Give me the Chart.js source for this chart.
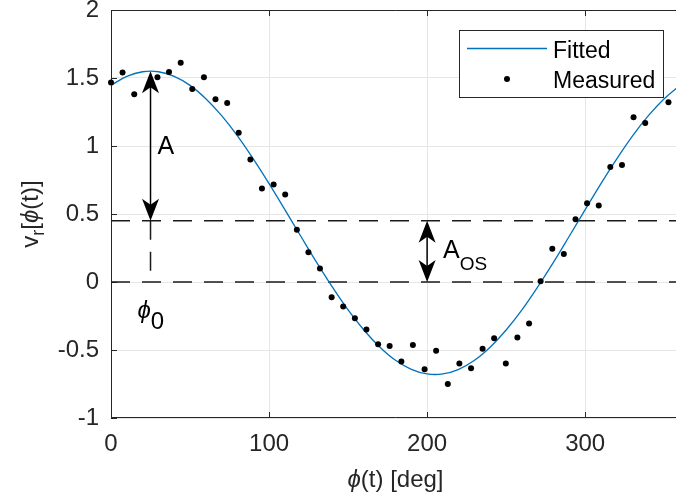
<!DOCTYPE html>
<html lang="en">
<head>
<meta charset="UTF-8">
<title>Radial velocity fit</title>
<script src="https://cdn.jsdelivr.net/npm/chart.js"></script>
<style>
  html, body { margin: 0; padding: 0; background: #fff; overflow: hidden; }
  #wrap { width: 676px; height: 502px; overflow: hidden; }
</style>
</head>
<body>
<div id="wrap"><canvas id="fitChart" width="684" height="502"></canvas></div>
<script>
// measured samples (deg, value)
const measPhi = [0, 7.3, 14.7, 29.4, 36.7, 44.1, 51.4, 58.8, 66.1, 73.5, 80.8, 88.2,
  95.5, 102.9, 110.2, 117.6, 124.9, 132.2, 139.6, 146.9, 154.3, 161.6, 169.0, 176.3,
  183.7, 191.0, 198.4, 205.7, 213.1, 220.4, 227.8, 235.1, 242.4, 249.8, 257.1, 264.5,
  271.8, 279.2, 286.5, 293.9, 301.2, 308.6, 315.9, 323.3, 330.6, 338.0, 352.7];
const measV = [1.466, 1.54, 1.38, 1.505, 1.544, 1.613, 1.419, 1.505, 1.343, 1.316, 1.098, 0.90,
  0.687, 0.716, 0.643, 0.385, 0.218, 0.10, -0.113, -0.181, -0.267, -0.35, -0.458, -0.47,
  -0.585, -0.463, -0.642, -0.505, -0.75, -0.60, -0.635, -0.49, -0.414, -0.60, -0.409, -0.305,
  0.005, 0.245, 0.206, 0.461, 0.579, 0.562, 0.846, 0.86, 1.211, 1.169, 1.321];

// fitted curve, every 10 deg
const fitPhi = [0, 10, 20, 30, 40, 50, 60, 70, 80, 90, 100, 110, 120, 130, 140, 150, 160, 170,
  180, 190, 200, 210, 220, 230, 240, 250, 260, 270, 280, 290, 300, 310, 320, 330, 340, 350, 360];
const fitV = [1.446, 1.512, 1.546, 1.546, 1.512, 1.446, 1.348, 1.223, 1.075, 0.906, 0.724, 0.532,
  0.338, 0.146, -0.036, -0.205, -0.353, -0.478, -0.576, -0.642, -0.676, -0.676, -0.642, -0.576,
  -0.478, -0.353, -0.205, -0.036, 0.146, 0.338, 0.532, 0.724, 0.906, 1.075, 1.223, 1.348, 1.446];

const xTicks = [0, 100, 200, 300];
const yTicks = [-1, -0.5, 0, 0.5, 1, 1.5, 2];

// fit parameters marked on the plot
const phi0 = 25;       // phase of the peak
const peakV = 1.55;    // top of the amplitude arrow
const offsetV = 0.45;  // A_OS level
const aosPhi = 200;    // where the offset arrow sits

const INK = '#262626';
const BLUE = '#0072BD';
const FONT = "'Liberation Sans', Arial, sans-serif";

function arrowHead(ctx, x, y, dir) {
  // dir -1: tip points up, +1: tip points down
  const L = 22, W = 8.5, N = 16;
  ctx.beginPath();
  ctx.moveTo(x, y);
  ctx.lineTo(x - W, y - dir * L);
  ctx.lineTo(x, y - dir * N);
  ctx.lineTo(x + W, y - dir * L);
  ctx.closePath();
  ctx.fill();
}

function doubleArrow(ctx, x, yTop, yBot) {
  ctx.beginPath();
  ctx.moveTo(x, yTop + 10);
  ctx.lineTo(x, yBot - 10);
  ctx.stroke();
  arrowHead(ctx, x, yTop, -1);
  arrowHead(ctx, x, yBot, 1);
}

// text made of runs: [text, font, dy]
function drawRuns(ctx, runs, x, y, center) {
  let total = 0;
  runs.forEach(r => { ctx.font = r[1]; total += ctx.measureText(r[0]).width; });
  let cx = center ? x - total / 2 : x;
  runs.forEach(r => {
    ctx.font = r[1];
    ctx.fillText(r[0], cx, y + (r[2] || 0));
    cx += ctx.measureText(r[0]).width;
  });
}

const decorations = {
  id: 'decorations',
  beforeDatasetsDraw(chart) {
    const { ctx, chartArea: a, scales: { x, y } } = chart;
    ctx.save();
    // axis box (left, bottom, top) with inward ticks
    ctx.strokeStyle = INK;
    ctx.lineWidth = 1;
    ctx.beginPath();
    ctx.moveTo(a.left + 0.5, a.top + 0.5);
    ctx.lineTo(a.right, a.top + 0.5);
    ctx.moveTo(a.left + 0.5, a.top);
    ctx.lineTo(a.left + 0.5, a.bottom - 0.5);
    ctx.lineTo(a.right, a.bottom - 0.5);
    xTicks.forEach(v => {
      const px = Math.round(x.getPixelForValue(v)) + 0.5;
      ctx.moveTo(px, a.bottom); ctx.lineTo(px, a.bottom - 6);
      ctx.moveTo(px, a.top); ctx.lineTo(px, a.top + 6);
    });
    yTicks.forEach(v => {
      const py = Math.round(y.getPixelForValue(v)) + 0.5;
      ctx.moveTo(a.left, py); ctx.lineTo(a.left + 6, py);
    });
    ctx.stroke();

    // dashed reference lines
    ctx.strokeStyle = '#1a1a1a';
    ctx.lineWidth = 1.5;
    ctx.setLineDash([19, 12]);
    const yOff = y.getPixelForValue(offsetV);
    const yZero = y.getPixelForValue(0);
    ctx.beginPath();
    ctx.moveTo(a.left, yOff); ctx.lineTo(a.right, yOff);
    ctx.moveTo(a.left, yZero); ctx.lineTo(a.right, yZero);
    const xp = x.getPixelForValue(phi0);
    ctx.moveTo(xp, yOff); ctx.lineTo(xp, yZero);
    ctx.stroke();
    ctx.restore();
  },
  afterDatasetsDraw(chart) {
    const { ctx, chartArea: a, scales: { x, y } } = chart;
    ctx.save();
    ctx.fillStyle = '#000';
    ctx.strokeStyle = '#000';
    ctx.lineWidth = 1.5;
    const xp = x.getPixelForValue(phi0);
    const yPeak = y.getPixelForValue(peakV);
    const yOff = y.getPixelForValue(offsetV);
    const yZero = y.getPixelForValue(0);
    doubleArrow(ctx, xp, yPeak, yOff);
    const xa = x.getPixelForValue(aosPhi);
    doubleArrow(ctx, xa, yOff, yZero);

    ctx.textAlign = 'left';
    ctx.textBaseline = 'alphabetic';
    ctx.fillStyle = '#000';
    drawRuns(ctx, [['A', `25px ${FONT}`]], xp + 7, y.getPixelForValue(1) + 8);
    drawRuns(ctx, [['A', `25px ${FONT}`], ['OS', `19px ${FONT}`, 12]], xa + 16, (yOff + yZero) / 2 + 7);
    drawRuns(ctx, [['\u03D5', `italic 24px ${FONT}`], ['0', `24px ${FONT}`, 11]], xp - 13, yZero + 36);

    // axis titles
    ctx.fillStyle = INK;
    const cx = (a.left + a.right) / 2;
    drawRuns(ctx, [['\u03D5', `italic 24px ${FONT}`], ['(t) [deg]', `24px ${FONT}`]], cx, 487, true);
    ctx.save();
    ctx.translate(38, (a.top + a.bottom) / 2);
    ctx.rotate(-Math.PI / 2);
    drawRuns(ctx, [['v', `24px ${FONT}`], ['r', `18px ${FONT}`, 6], ['[', `24px ${FONT}`],
      ['\u03D5', `italic 24px ${FONT}`], ['(t)]', `24px ${FONT}`]], 0, 0, true);
    ctx.restore();

    // legend
    ctx.fillStyle = '#fff';
    ctx.fillRect(459, 30, 204, 67);
    ctx.strokeStyle = INK;
    ctx.lineWidth = 1;
    ctx.strokeRect(459.5, 30.5, 204, 67);
    ctx.strokeStyle = BLUE;
    ctx.lineWidth = 1.3;
    ctx.beginPath();
    ctx.moveTo(467, 48.5); ctx.lineTo(547, 48.5);
    ctx.stroke();
    ctx.fillStyle = '#000';
    ctx.beginPath();
    ctx.arc(507, 79, 3, 0, Math.PI * 2);
    ctx.fill();
    ctx.font = `23px ${FONT}`;
    ctx.fillText(chart.data.datasets[1].label, 553, 58);
    ctx.fillText(chart.data.datasets[0].label, 553, 88);
    ctx.restore();
  }
};

const tickFont = { family: FONT, size: 24 };

new Chart(document.getElementById('fitChart'), {
  type: 'scatter',
  data: {
    datasets: [
      {
        label: 'Measured',
        data: measPhi.map((p, i) => ({ x: p, y: measV[i] })),
        pointRadius: 3,
        pointBackgroundColor: '#000',
        pointBorderWidth: 0,
        showLine: false,
        clip: false
      },
      {
        label: 'Fitted',
        data: fitPhi.map((p, i) => ({ x: p, y: fitV[i] })),
        showLine: true,
        pointRadius: 0,
        borderColor: BLUE,
        borderWidth: 1.3,
        tension: 0.4
      }
    ]
  },
  options: {
    responsive: false,
    animation: false,
    events: [],
    devicePixelRatio: 1,
    layout: { padding: { top: 10, right: 1, left: 0, bottom: 0 } },
    plugins: { legend: { display: false }, tooltip: { enabled: false } },
    scales: {
      x: {
        type: 'linear',
        min: 0, max: 360,
        afterBuildTicks: s => { s.ticks = xTicks.map(v => ({ value: v })); },
        afterFit: s => { s.height = 84; s.paddingLeft = s.paddingRight = 0; },
        grid: { color: '#e6e6e6', drawTicks: false },
        border: { display: false },
        ticks: { font: tickFont, color: INK, padding: 12, maxRotation: 0, callback: v => String(v) }
      },
      y: {
        min: -1, max: 2,
        afterBuildTicks: s => { s.ticks = yTicks.map(v => ({ value: v })); },
        afterFit: s => { s.width = 111; s.paddingTop = s.paddingBottom = 0; },
        grid: { color: '#e6e6e6', drawTicks: false },
        border: { display: false },
        ticks: { font: tickFont, color: INK, padding: 12, callback: v => String(v) }
      }
    }
  },
  plugins: [decorations]
});
</script>
</body>
</html>
